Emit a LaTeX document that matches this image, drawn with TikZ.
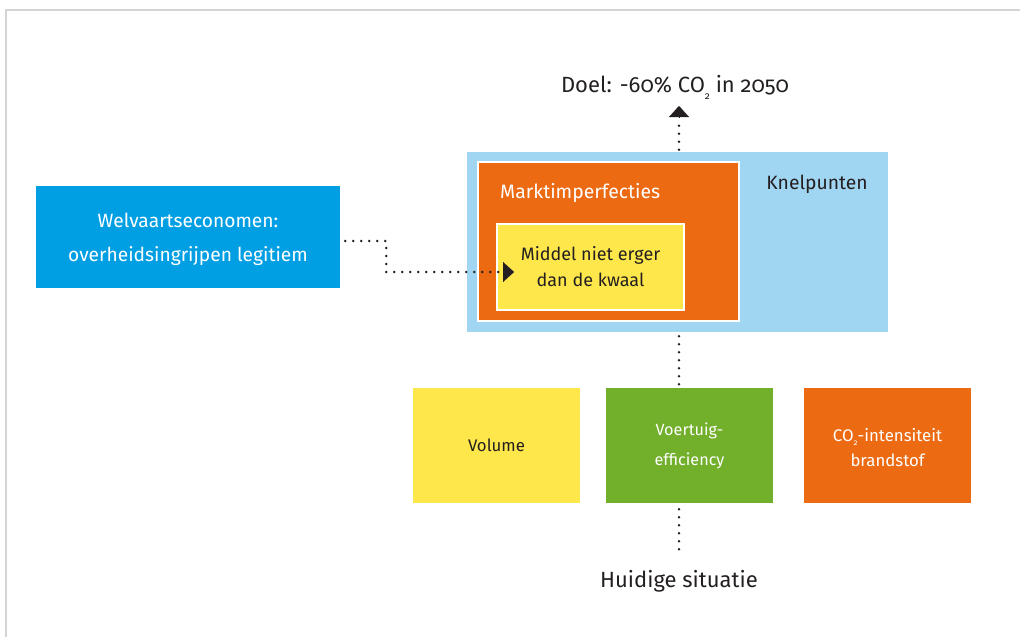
\documentclass[tikz,border=0pt]{standalone}
\usepackage{fontspec}
\setmainfont{Fira Sans}[Numbers=OldStyle]
\usetikzlibrary{arrows.meta}

\definecolor{skyblue}{HTML}{009FE3}
\definecolor{paleblue}{HTML}{A1D6F3}
\definecolor{orangefill}{HTML}{EC6A12}
\definecolor{yellowfill}{HTML}{FEE74A}
\definecolor{greenfill}{HTML}{72AF2B}
\definecolor{inkdark}{HTML}{231F20}
\definecolor{framegray}{HTML}{D4D4D4}

\newcommand{\cotwo}{CO\raisebox{-0.45ex}{\fontsize{8}{8}\selectfont 2}}

\tikzset{
  block/.style={rectangle, inner sep=0pt, align=center, font=\fontsize{16.8}{25}\selectfont},
  dotline/.style={draw=inkdark, line width=2.8pt, line cap=round, dash pattern=on 0pt off 8pt},
  tip/.style={-{Triangle[width=20pt,length=11pt]}, draw=inkdark, fill=inkdark},
  caption/.style={inner sep=0pt, text=inkdark, font=\fontsize{22}{26}\selectfont}
}

\begin{document}
\begin{tikzpicture}[x=1pt, y=-1pt]
  \useasboundingbox (0,0) rectangle (1020,637);
  % thin page frame
  \draw[framegray, line width=1.3pt] (6,637) -- (6,10) -- (1020,10);

  % left statement
  \node[block, fill=skyblue, minimum width=304pt, minimum height=102pt] (welvaart) at (188,237) {};
  \node[align=center, text=white, inner sep=0pt, font=\fontsize{19.2}{34}\selectfont] (welvaarttext) at (188,239)
        {Welvaartseconomen:\\overheidsingrijpen legitiem};

  % nested problem boxes
  \node[block, fill=paleblue, minimum width=421pt, minimum height=180pt] (knel) at (677.5,242) {};
  \node[text=inkdark, inner sep=0pt, font=\fontsize{19.3}{22}\selectfont] (kneltext) at (817,184) {Knelpunten};
  \node[block, fill=orangefill, draw=white, line width=2pt, minimum width=261pt, minimum height=159pt] (markt) at (608.5,241.5) {};
  \node[anchor=west, text=white, inner sep=0pt, font=\fontsize{19.4}{22}\selectfont] (markttext) at (500,193) {Marktimperfecties};
  \node[block, fill=yellowfill, draw=white, line width=2pt, text=inkdark, minimum width=187pt, minimum height=86pt,
        font=\fontsize{18}{26}\selectfont] (middel) at (590.5,267)
        {Middel niet erger\\dan de kwaal};

  % three levers
  \node[block, fill=yellowfill, text=inkdark, minimum width=167pt, minimum height=115pt] (volume) at (496.5,445.5) {Volume};
  \node[block, fill=greenfill, text=white, minimum width=167pt, minimum height=115pt,
        font=\fontsize{16.2}{30}\selectfont] (voertuig) at (689.5,445.5) {Voertuig-\\efficiency};
  \node[block, fill=orangefill, minimum width=167pt, minimum height=115pt] (brandstof) at (887.5,445.5) {};
  \node[align=center, text=white, inner sep=0pt, font=\fontsize{16.8}{25}\selectfont] (brandstoftext) at (887.5,447.5)
        {\cotwo-intensiteit\\brandstof};

  % goal and starting point
  \node[caption] (doel) at (675,87) {Doel: -60\% CO\raisebox{-0.6ex}{\fontsize{10}{10}\selectfont 2} in 2050};
  \node[caption] (huidig) at (679,581) {Huidige situatie};

  % connectors
  \coordinate (tipT) at (679,106);
  \coordinate (tipL) at (514,272);
  \coordinate (foot) at (679,552);
  \draw[dotline] ([xshift=5pt,yshift=-4pt]welvaart.east) -- ++(41,0) |- ([xshift=-12pt]tipL);
  \draw[tip, line width=0.1pt] ([xshift=-11pt]tipL) -- (tipL);
  \draw[dotline] ([yshift=2pt]knel.north -| tipT) -- ([yshift=-14pt]tipT);
  \draw[tip, line width=0.1pt] ([yshift=-11pt]tipT) -- (tipT);
  \draw[dotline] ([yshift=-4pt]knel.south -| tipT) -- (voertuig.north -| tipT);
  \draw[dotline] ([yshift=-6pt]voertuig.south -| tipT) -- (foot);
\end{tikzpicture}
\end{document}
